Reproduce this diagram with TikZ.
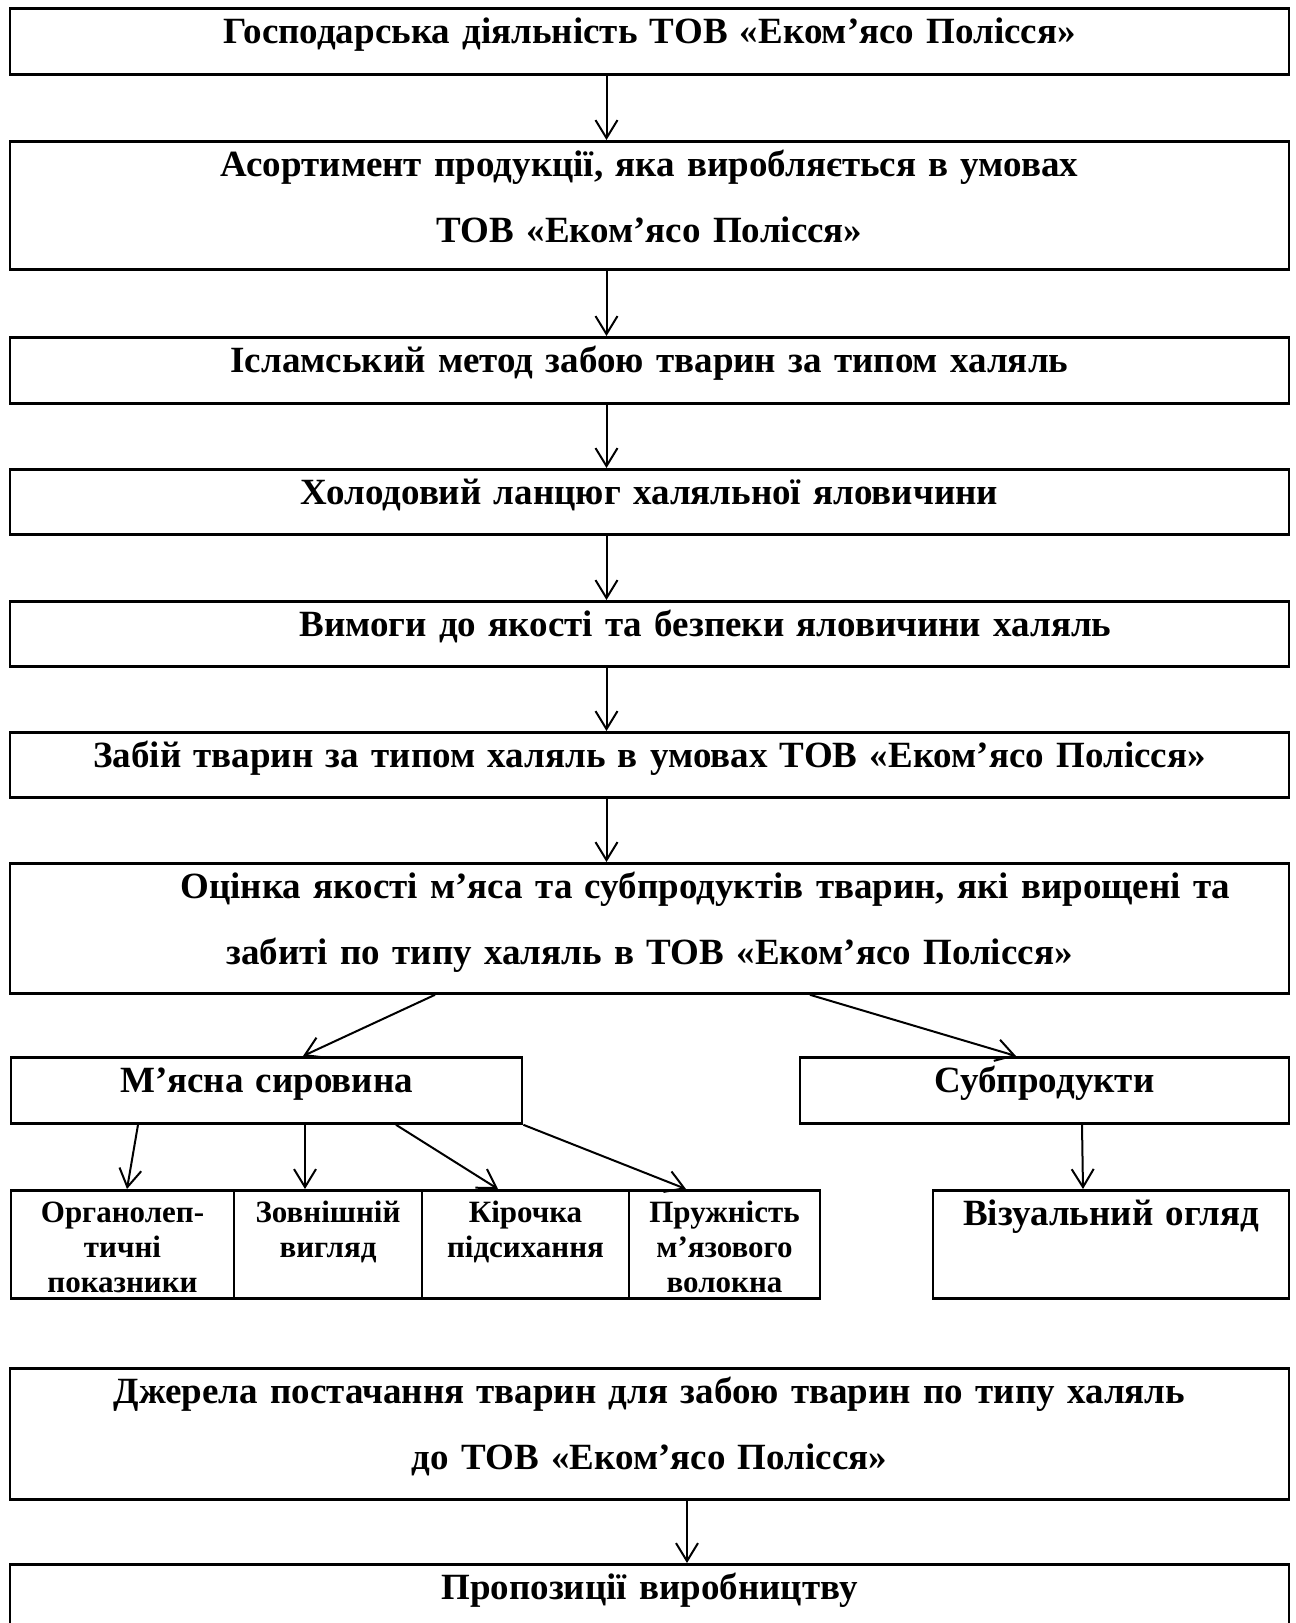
\documentclass[tikz,border=0pt]{standalone}
\usepackage{fontspec}
\setmainfont{Liberation Serif}[WordSpace=0.5]
\usepackage{tikz}
\usetikzlibrary{arrows.meta, positioning}

\begin{document}
\begin{tikzpicture}[
			x=1pt, y=-1pt,
			box/.style={
				draw,
				rectangle,
				line width=2.8pt,
				anchor=north,
				inner sep=0pt,
				align=center,
				text height=35pt,
				font=\bfseries\fontsize{37}{66}\selectfont
			},
			smallbox/.style={
				box,
				text height=32pt,
				text depth=76pt,
				font=\bfseries\fontsize{31}{35}\selectfont
			},
			arrow/.style={-{Straight Barb[length=18pt,width=22pt]}, line width=2pt}
			]
			
			\useasboundingbox (0,0) rectangle (1296,1623);
			
			\node[box, text width=1279pt, text depth=31pt] (gosp) at (649.5,7) {Господарська діяльність ТОВ «Еком’ясо Полісся»};
			\node[box, text width=1279pt, text depth=93pt] (asort) at (649.5,140) {Асортимент продукції, яка виробляється в умовах\\ ТОВ «Еком’ясо Полісся»};
			\node[box, text width=1279pt, text depth=31pt] (islam) at (649.5,336) {Ісламський метод забою тварин за типом халяль};
			\node[box, text width=1279pt, text depth=30pt] (cold) at (649.5,468) {Холодовий ланцюг халяльної яловичини};
			\node[box, text width=1279pt, text depth=30pt] (req) at (649.5,600) {\hspace*{112pt}Вимоги до якості та безпеки яловичини халяль};
			\node[box, text width=1279pt, text depth=30pt] (slaught) at (649.5,731) {Забій тварин за типом халяль в умовах ТОВ «Еком’ясо Полісся»};
			\node[box, text width=1279pt, text depth=95pt] (quality) at (649.5,862) {\hspace*{112pt}Оцінка якості м’яса та субпродуктів тварин, які вирощені та\\ забиті по типу халяль в ТОВ «Еком’ясо Полісся»};
			
			\node[box, text width=511pt, text depth=31pt] (meat) at (266.5,1056) {М’ясна сировина};
			\node[box, text width=489pt, text depth=31pt] (offal) at (1044.5,1056) {Субпродукти};
			
			\node[smallbox, text width=223pt] (organ) at (122.5,1189) {Органолеп-\\ тичні\\ показники};
			\node[smallbox, text width=188pt] (look) at (328,1189) {Зовнішній\\ вигляд};
			\node[smallbox, text width=207pt] (crust) at (525.5,1189) {Кірочка\\ підсихання};
			\node[smallbox, text width=191pt] (elast) at (724.5,1189) {Пружність\\ м’язового\\ волокна};
			\node[box, text width=356pt, text depth=73pt] (visual) at (1111,1189) {Візуальний огляд};
			
			\node[box, text width=1279pt, text depth=96pt] (sources) at (649.5,1367) {Джерела постачання тварин для забою тварин по типу халяль\\ до ТОВ «Еком’ясо Полісся»};
			\node[box, text width=1279pt, text depth=90pt] (prop) at (649.5,1563) {Пропозиції виробництву};
			
			\draw[arrow] ([xshift=-43pt]gosp.south) -- ([xshift=-43pt]asort.north);
			\draw[arrow] ([xshift=-43pt]asort.south) -- ([xshift=-43pt]islam.north);
			\draw[arrow] ([xshift=-43pt]islam.south) -- ([xshift=-43pt]cold.north);
			\draw[arrow] ([xshift=-43pt]cold.south) -- ([xshift=-43pt]req.north);
			\draw[arrow] ([xshift=-43pt]req.south) -- ([xshift=-43pt]slaught.north);
			\draw[arrow] ([xshift=-43pt]slaught.south) -- ([xshift=-43pt]quality.north);
			
			\draw[arrow] ([xshift=-214.5pt]quality.south) -- ([xshift=36.5pt]meat.north);
			\draw[arrow] ([xshift=160.5pt]quality.south) -- ([xshift=-28.5pt]offal.north);
			
			\draw[arrow] ([xshift=-128.5pt]meat.south) -- ([xshift=4.5pt]organ.north);
			\draw[arrow] ([xshift=38.5pt]meat.south) -- ([xshift=-23pt]look.north);
			\draw[arrow] ([xshift=129.5pt]meat.south) -- ([xshift=-27.5pt]crust.north);
			\draw[arrow] (meat.south east) -- ([xshift=-38.5pt]elast.north);
			\draw[arrow] ([xshift=37.5pt]offal.south) -- ([xshift=-28pt]visual.north);
			
			\draw[arrow] ([xshift=37.5pt]sources.south) -- ([xshift=37.5pt]prop.north);
			
		\end{tikzpicture}
\end{document}
